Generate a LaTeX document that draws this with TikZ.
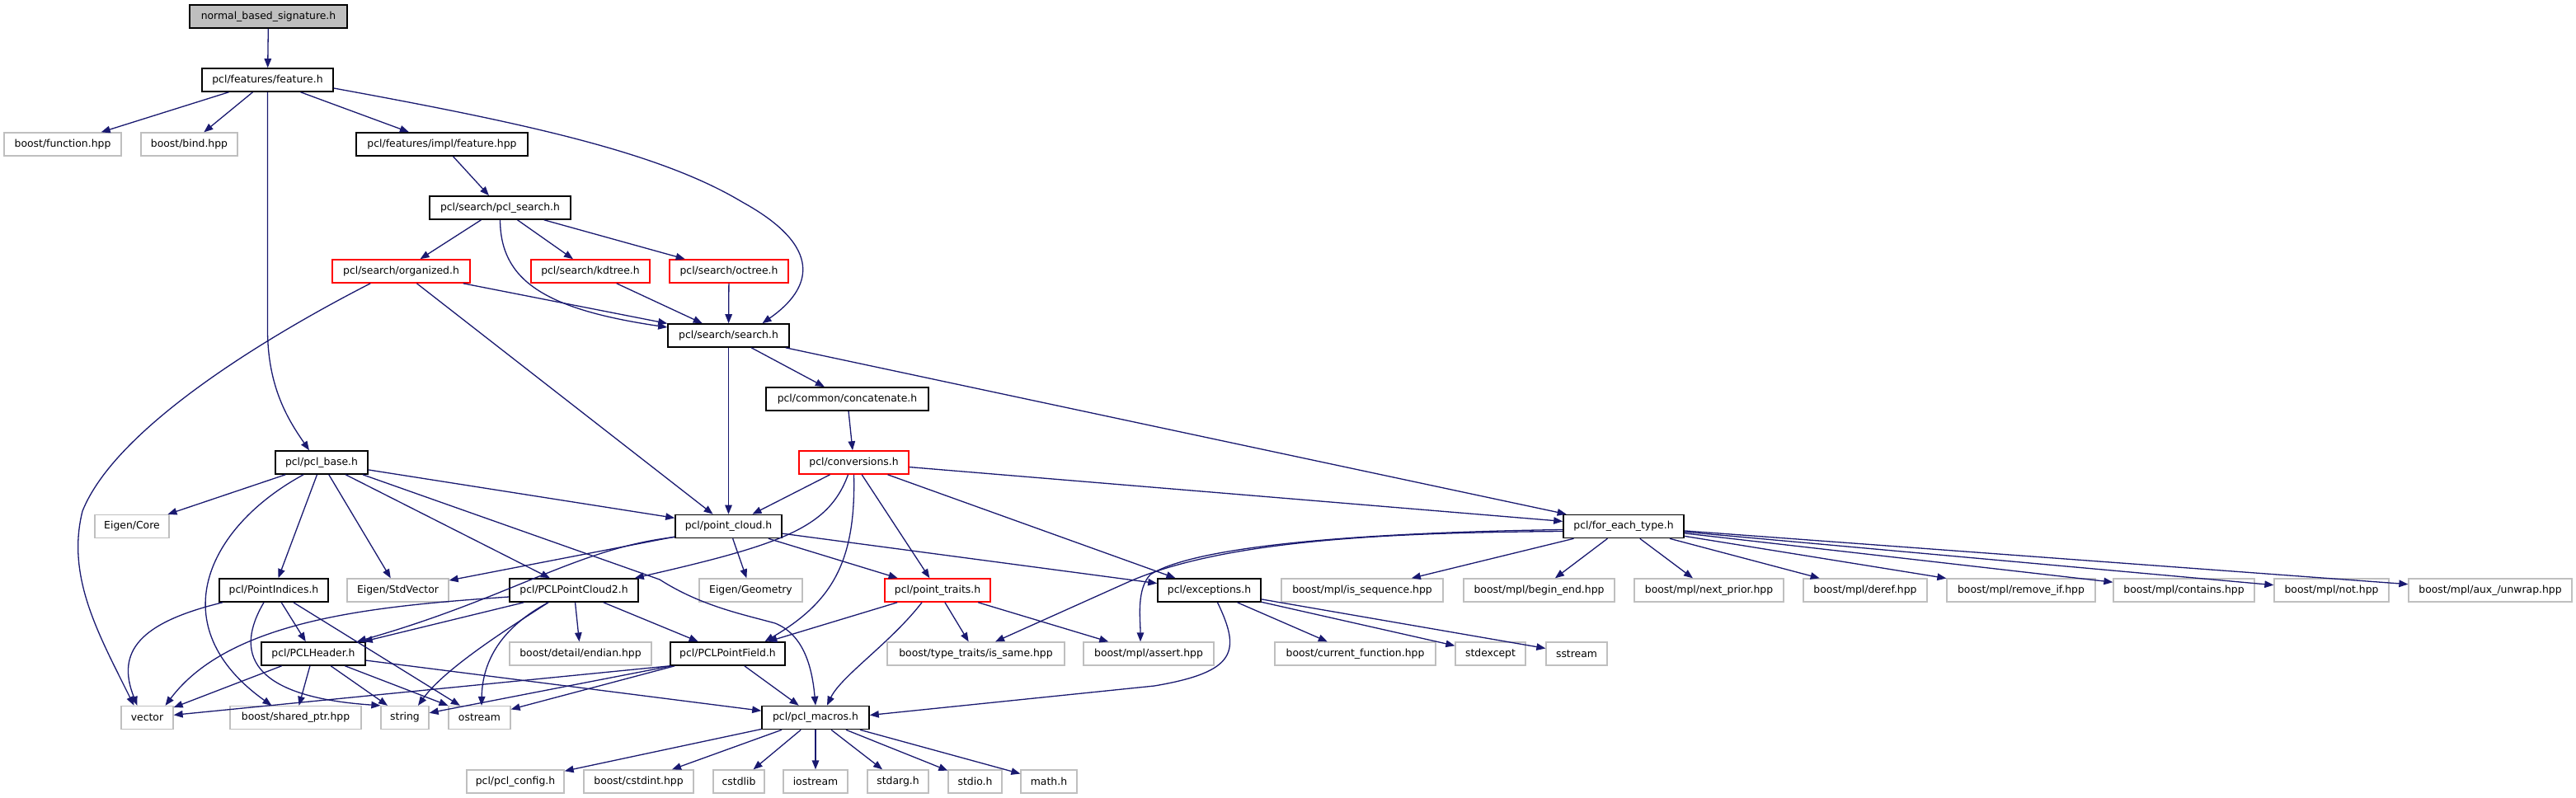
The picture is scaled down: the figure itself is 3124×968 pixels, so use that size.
\documentclass[tikz,border=0pt]{standalone}
\usepackage{fontspec}
\setmainfont{DejaVu Sans}
\usetikzlibrary{arrows.meta}
\definecolor{edgeblue}{HTML}{191970}
\definecolor{extgrey}{HTML}{BFBFBF}
\begin{document}
\begin{tikzpicture}[x=1pt,y=-1pt,
  box/.style={rectangle, minimum height=28pt, inner sep=0pt, font=\fontsize{12.4}{14}\selectfont, fill=white},
  docbox/.style={box, draw=black, line width=1.6pt},
  extbox/.style={box, draw=extgrey, line width=1.3pt},
  incbox/.style={box, draw=red, line width=1.6pt},
  rootbox/.style={box, draw=black, fill=extgrey, line width=1.6pt},
  edg/.style={draw=edgeblue, line width=1.3pt, -{Triangle[length=11pt,width=8.5pt]}}
]
\fill[white] (0,0) rectangle (3124,968);
\useasboundingbox (0,0) rectangle (3124,968);
% row 0-7
\node[rootbox, minimum width=191pt] (nbs) at (325.5,20) {normal\_based\_signature.h};
\node[docbox, minimum width=159pt] (feat) at (324.5,97) {pcl/features/feature.h};
\node[extbox, minimum width=142pt] (bfunc) at (76,175) {boost/function.hpp};
\node[extbox, minimum width=117pt] (bbind) at (229.5,175) {boost/bind.hpp};
\node[docbox, minimum width=208pt] (ifeat) at (536,175) {pcl/features/impl/feature.hpp};
\node[docbox, minimum width=171pt] (psearch) at (606.5,252) {pcl/search/pcl\_search.h};
\node[incbox, minimum width=167pt] (org) at (486.5,329) {pcl/search/organized.h};
\node[incbox, minimum width=144pt] (kd) at (716,329) {pcl/search/kdtree.h};
\node[incbox, minimum width=144pt] (oct) at (884,329) {pcl/search/octree.h};
\node[docbox, minimum width=147pt] (search) at (883.5,407) {pcl/search/search.h};
\node[docbox, minimum width=197pt] (concat) at (1027.5,484) {pcl/common/concatenate.h};
\node[docbox, minimum width=112pt] (pbase) at (390,561) {pcl/pcl\_base.h};
\node[incbox, minimum width=133pt] (conv) at (1035.5,561) {pcl/conversions.h};
% row 8
\node[extbox, minimum width=90pt] (ecore) at (160,638.5) {Eigen/Core};
\node[docbox, minimum width=129pt] (pc) at (883.5,638.5) {pcl/point\_cloud.h};
\node[docbox, minimum width=146pt] (fet) at (1969,638.5) {pcl/for\_each\_type.h};
% row 9
\node[docbox, minimum width=132pt] (pidx) at (332,716) {pcl/PointIndices.h};
\node[extbox, minimum width=123pt] (stdvec) at (482.5,716) {Eigen/StdVector};
\node[docbox, minimum width=156pt] (pc2) at (696,716) {pcl/PCLPointCloud2.h};
\node[extbox, minimum width=125pt] (egeo) at (910.5,716) {Eigen/Geometry};
\node[incbox, minimum width=128pt] (ptr) at (1137,716) {pcl/point\_traits.h};
\node[docbox, minimum width=125pt] (exc) at (1466.5,716) {pcl/exceptions.h};
\node[extbox, minimum width=196pt] (isseq) at (1652,716) {boost/mpl/is\_sequence.hpp};
\node[extbox, minimum width=183pt] (bend) at (1866.5,716) {boost/mpl/begin\_end.hpp};
\node[extbox, minimum width=181pt] (nprior) at (2072.5,716) {boost/mpl/next\_prior.hpp};
\node[extbox, minimum width=150pt] (deref) at (2262,716) {boost/mpl/deref.hpp};
\node[extbox, minimum width=180pt] (remif) at (2451,716) {boost/mpl/remove\_if.hpp};
\node[extbox, minimum width=171pt] (contains) at (2648.5,716) {boost/mpl/contains.hpp};
\node[extbox, minimum width=139pt] (mnot) at (2827.5,716) {boost/mpl/not.hpp};
\node[extbox, minimum width=198pt] (unwrap) at (3020,716) {boost/mpl/aux\_/unwrap.hpp};
% row 10
\node[docbox, minimum width=126pt] (phead) at (380,793) {pcl/PCLHeader.h};
\node[extbox, minimum width=172pt] (endian) at (704,793) {boost/detail/endian.hpp};
\node[docbox, minimum width=139pt] (pfield) at (882.5,793) {pcl/PCLPointField.h};
\node[extbox, minimum width=215pt] (issame) at (1183.5,793) {boost/type\_traits/is\_same.hpp};
\node[extbox, minimum width=158pt] (assert) at (1393,793) {boost/mpl/assert.hpp};
\node[extbox, minimum width=195pt] (curfn) at (1643.5,793) {boost/current\_function.hpp};
\node[extbox, minimum width=85pt] (stdexc) at (1807.5,793) {stdexcept};
\node[extbox, minimum width=74pt] (sstream) at (1912,793) {sstream};
% row 11
\node[extbox, minimum width=63pt] (vector) at (178.5,870.5) {vector};
\node[extbox, minimum width=159pt] (shptr) at (358.5,870.5) {boost/shared\_ptr.hpp};
\node[extbox, minimum width=58pt] (string) at (491,870.5) {string};
\node[extbox, minimum width=75pt] (ostream) at (581.5,870.5) {ostream};
\node[docbox, minimum width=130pt] (macros) at (989,870.5) {pcl/pcl\_macros.h};
% row 12
\node[extbox, minimum width=118pt] (config) at (625,948) {pcl/pcl\_config.h};
\node[extbox, minimum width=133pt] (cstdint) at (774.5,948) {boost/cstdint.hpp};
\node[extbox, minimum width=62pt] (cstdlib) at (896,948) {cstdlib};
\node[extbox, minimum width=78pt] (iostream) at (989,948) {iostream};
\node[extbox, minimum width=74pt] (stdarg) at (1089,948) {stdarg.h};
\node[extbox, minimum width=65pt] (stdio) at (1182.5,948) {stdio.h};
\node[extbox, minimum width=68pt] (math) at (1272,948) {math.h};

% straight edges
\draw[edg] (nbs) -- (feat);
\draw[edg] (feat) -- (bfunc);
\draw[edg] (feat) -- (bbind);
\draw[edg] (feat) -- (ifeat);
\draw[edg] (ifeat) -- (psearch);
\draw[edg] (psearch) -- (org);
\draw[edg] (psearch) -- (kd);
\draw[edg] (psearch) -- (oct);
\draw[edg] (org) -- (search);
\draw[edg] (org) -- (pc);
\draw[edg] (kd) -- (search);
\draw[edg] (oct) -- (search);
\draw[edg] (search) -- (pc);
\draw[edg] (search) -- (concat);
\draw[edg] (search) -- (fet);
\draw[edg] (concat) -- (conv);
\draw[edg] (conv) -- (pc);
\draw[edg] (conv) -- (ptr);
\draw[edg] (conv) -- (exc);
\draw[edg] (conv) -- (fet);
\draw[edg] (pbase) -- (ecore);
\draw[edg] (pbase) -- (pidx);
\draw[edg] (pbase) -- (stdvec);
\draw[edg] (pbase) -- (pc2);
\draw[edg] (pbase) -- (pc);
\draw[edg] (pc) -- (stdvec);
\draw[edg] (pc) -- (egeo);
\draw[edg] (pc) -- (ptr);
\draw[edg] (pc) -- (exc);
\draw[edg] (pc2) -- (phead);
\draw[edg] (pc2) -- (endian);
\draw[edg] (pc2) -- (pfield);
\draw[edg] (pidx) -- (phead);
\draw[edg] (pidx) -- (ostream);
\draw[edg] (phead) -- (vector);
\draw[edg] (phead) -- (shptr);
\draw[edg] (phead) -- (string);
\draw[edg] (phead) -- (ostream);
\draw[edg] (phead) -- (macros);
\draw[edg] (pfield.south west) -- (vector);
\draw[edg] ([xshift=2pt]pfield.south west) -- (string);
\draw[edg] ([xshift=6pt]pfield.south west) -- (ostream);
\draw[edg] (pfield) -- (macros);
\draw[edg] (ptr) -- (pfield);
\draw[edg] (ptr) -- (issame);
\draw[edg] (ptr) -- (assert);
\draw[edg] (fet) -- (isseq);
\draw[edg] (fet) -- (bend);
\draw[edg] (fet) -- (nprior);
\draw[edg] (fet) -- (deref);
\draw[edg] (fet) -- (remif);
\draw[edg] (fet) -- (contains);
\draw[edg] (fet) -- (mnot);
\draw[edg] (fet) -- (unwrap);
\draw[edg] (exc) -- (curfn);
\draw[edg] (exc) -- (stdexc);
\draw[edg] (exc) -- (sstream);
\draw[edg] (macros) -- (config);
\draw[edg] (macros) -- (cstdint);
\draw[edg] (macros) -- (cstdlib);
\draw[edg] (macros) -- (iostream);
\draw[edg] (macros) -- (stdarg);
\draw[edg] (macros) -- (stdio);
\draw[edg] (macros) -- (math);

% curved edges
\draw[edg] (feat.south) -- (324.5,400) .. controls (324.5,470) and (350,510) .. ([xshift=-15pt]pbase.north);
\draw[edg] ([yshift=-10pt]feat.east) .. controls (640,150) and (800,185) .. (900,245) .. controls (1000,300) and (985,350) .. ([xshift=41pt]search.north);
\draw[edg] (psearch.south) .. controls (607,340) and (660,375) .. ([yshift=10pt]search.west);
\draw[edg] ([xshift=47pt]org.south west) .. controls (320,410) and (140,520) .. (100,620) .. controls (80,700) and (120,770) .. ([xshift=-16pt]vector.north);
\draw[edg] ([xshift=-22pt]pbase.south) .. controls (250,640) and (195,760) .. ([xshift=-29pt]shptr.north);
\draw[edg] ([xshift=50pt]pbase.south) -- (800,703) .. controls (850,735) and (900,745) .. (940,756) .. controls (975,770) and (985,810) .. (macros.north);
\draw[edg] ([xshift=-7pt]conv.south) .. controls (1005,640) and (950,660) .. ([xshift=-5pt]pc2.north east);
\draw[edg] (conv.south) .. controls (1038,680) and (1010,730) .. ([xshift=45pt]pfield.north);
\draw[edg] ([yshift=-13pt]pc.west) .. controls (700,665) and (620,725) .. ([xshift=53pt]phead.north);
\draw[edg] ([yshift=-8pt]pc2.west) .. controls (460,735) and (280,750) .. ([xshift=22pt]vector.north);
\draw[edg] ([xshift=-31pt]pc2.south) .. controls (620,760) and (540,810) .. ([xshift=16pt]string.north);
\draw[edg] ([xshift=-31pt]pc2.south) .. controls (610,760) and (585,800) .. ([xshift=2.5pt]ostream.north);
\draw[edg] ([xshift=-62pt]pidx.south) .. controls (170,755) and (140,790) .. ([xshift=-12pt]vector.north);
\draw[edg] ([xshift=-12pt]pidx.south) .. controls (285,790) and (300,845) .. (string.north west);
\draw[edg] ([xshift=-19pt]ptr.south) .. controls (1080,780) and (1020,820) .. ([xshift=14pt]macros.north);
\draw[edg] ([yshift=-6pt]fet.west) .. controls (1700,646) and (1486,653) .. (1366,707) -- ([xshift=23.5pt]issame.north);
\draw[edg] ([yshift=-4pt]fet.west) .. controls (1650,646) and (1450,662) .. (1395,697) .. controls (1378,715) and (1383,750) .. ([xshift=-10pt]assert.north);
\draw[edg] ([xshift=10pt]exc.south) .. controls (1505,790) and (1500,815) .. (1400,832) -- ([yshift=3pt]macros.east);
\end{tikzpicture}
\end{document}
